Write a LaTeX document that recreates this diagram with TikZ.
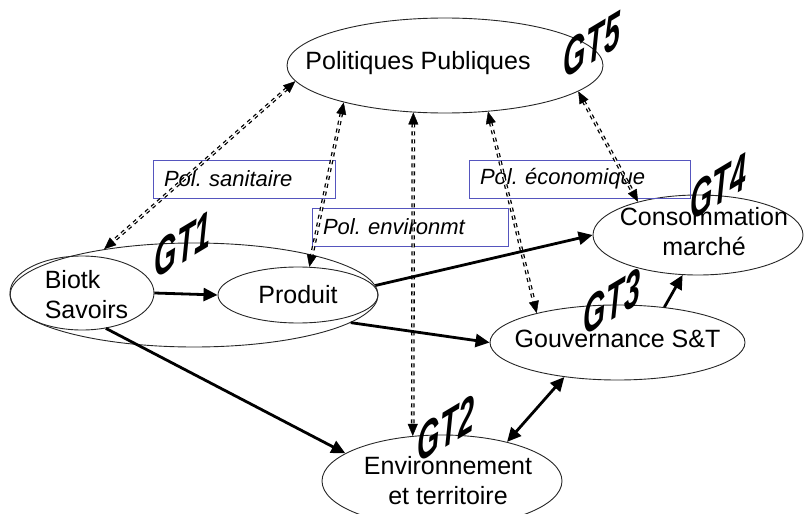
\documentclass[tikz,border=0pt]{standalone}
\usepackage{fontspec}
\setmainfont{Liberation Sans}
\usetikzlibrary{shapes.geometric,arrows.meta}
\definecolor{boxblue}{RGB}{85,85,190}
\newcommand{\gtt}[1]{\scalebox{0.72}[1.3]{#1}}
\begin{document}
\frenchspacing
\begin{tikzpicture}[x=1pt,y=-1pt,
  ell/.style={draw=black!85, line width=0.9pt, ellipse, inner sep=0pt},
  txt/.style={inner sep=0pt, align=center, font=\fontsize{25}{30}\selectfont},
  polbox/.style={draw=boxblue, line width=0.8pt, rectangle, inner xsep=11pt, inner ysep=0pt,
    minimum height=38pt, align=left, font=\fontsize{22}{26}\selectfont\itshape},
  solidarrow/.style={line width=2.8pt, -{Triangle[length=14pt,width=13pt]}},
  solidboth/.style={line width=2.8pt, {Triangle[length=14pt,width=13pt]}-{Triangle[length=14pt,width=13pt]}},
  ddline/.style={draw, double=white, line width=1.3pt, double distance=1pt,
    dash pattern=on 4pt off 4pt, shorten >=11pt, shorten <=11pt},
  ddtips/.style={tips, {Triangle[length=12pt,width=10pt]}-{Triangle[length=12pt,width=10pt]}},
  gtlabel/.style={yslant=0.6, inner sep=0pt, font=\fontsize{40}{40}\selectfont\bfseries\itshape},
]
\useasboundingbox (0,0) rectangle (804,514);

% ellipses
\node[ell, minimum width=316pt, minimum height=95pt] (pp) at (445,65.5) {};
\node[ell, minimum width=368pt, minimum height=104pt] (gt1) at (194,295) {};
\node[ell, minimum width=144pt, minimum height=74pt] (biotk) at (82,293) {};
\node[ell, minimum width=160pt, minimum height=56pt] (produit) at (298,295) {};
\node[ell, minimum width=210pt, minimum height=80pt] (cons) at (698,235) {};
\node[ell, minimum width=255pt, minimum height=75pt] (gouv) at (617.5,342.5) {};
\node[ell, minimum width=240pt, minimum height=92pt] (env) at (442,481) {};

% texts
\node[txt] (pptxt) at (418,63) {Politiques Publiques};
\node[txt, align=left] (biotktxt) at (86.5,295) {Biotk\\Savoirs};
\node[txt] (produittxt) at (298,295) {Produit};
\node[txt] (constxt) at (704,232) {Consommation\\marché};
\node[txt] (gouvtxt) at (617.5,339) {Gouvernance S\&T};
\node[txt] (envtxt) at (448,481) {Environnement\\et territoire};

% boxes
\node[polbox, text width=160pt] (san) at (244,179) {Pol. sanitaire};
\node[polbox, text width=174pt] (envbox) at (410,227) {Pol. environmt};
\node[polbox, text width=199pt] (eco) at (579.5,179) {Pol. économique};

% dashed double arrows
\path[ddline] (pp.186) -- (gt1.153);
\path[ddtips] (pp.186) -- (gt1.153);
\path[ddline] (pp.-160) -- (produit.68);
\path[ddtips] (pp.-160) -- (produit.68);
\path[ddline] (pp.-124.5) -- (env.123);
\path[ddtips] (pp.-124.5) -- (env.123);
\path[ddline] (pp.-47.5) -- (gouv.160);
\path[ddtips] (pp.-47.5) -- (gouv.160);
\path[ddline] (pp.-11.2) -- (cons.151);
\path[ddtips] (pp.-11.2) -- (cons.151);

% solid arrows
\draw[solidarrow] (biotk.east) -- (produit.west);
\draw[solidarrow] (gt1.3) -- (cons.west);
\draw[solidarrow] (gt1.-10) -- (gouv.west);
\draw[solidarrow] (biotk.-56) -- (env.164);
\draw[solidarrow] (gouv.37) -- (cons.-111);
\draw[solidboth] (env.31) -- (gouv.-147);

% GT labels
\node[gtlabel] (gt1l) at (183,245) {\gtt{GT1}};
\node[gtlabel] (gt2l) at (446,429) {\gtt{GT2}};
\node[gtlabel] (gt3l) at (612,302) {\gtt{GT3}};
\node[gtlabel] (gt4l) at (718,187) {\gtt{GT4}};
\node[gtlabel] (gt5l) at (592,45) {\gtt{GT5}};
\end{tikzpicture}
\end{document}
